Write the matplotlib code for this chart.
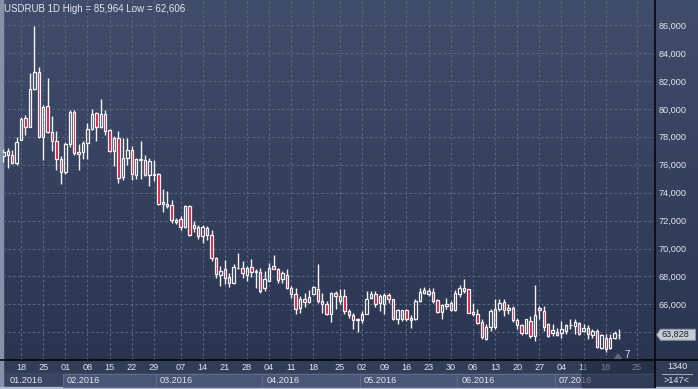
import numpy as np
import matplotlib
matplotlib.use('Agg')
import matplotlib.pyplot as plt
from matplotlib.patches import Rectangle, Polygon
from matplotlib.colors import LinearSegmentedColormap

W, H = 698, 389

# daily USDRUB candles, 12.01.2016 .. 21.07.2016
opens = [76.6, 76.95, 76.7, 76.1, 77.8, 79.33, 78.7, 81.4, 82.6, 77.97,
         80.17, 78.33, 77.67, 76.4, 75.45, 77.5, 79.76, 76.9, 76.9, 77.55,
         78.57, 79.7, 78.7, 79.64, 78.45, 76.95, 77.9, 75.1, 76.47, 77.07,
         75.29, 76.33, 76.36, 75.24, 75.33, 75.33, 73.21, 73.07, 73.12, 72.07,
         72.12, 71.52, 73.07, 71.5, 71.55, 70.9, 71.5, 71.0, 69.3, 68.14,
         68.5, 67.98, 67.5, 68.6, 68.62, 68.07, 68.69, 68.33, 68.33, 67.19,
         67.67, 68.74, 68.55, 67.79, 68.12, 67.19, 66.76, 65.76, 66.4, 66.19,
         66.76, 67.12, 66.24, 66.0, 65.29, 66.83, 66.24, 66.6, 65.52, 65.21,
         64.86, 64.86, 65.33, 66.48, 66.71, 66.12, 66.0, 66.64, 66.36, 64.98,
         64.93, 65.6, 65.05, 64.93, 66.24, 66.83, 66.71, 66.9, 66.29, 65.45,
         65.88, 66.12, 65.6, 66.76, 67.19, 67.07, 65.45, 65.33, 64.74, 63.5,
         64.38, 64.38, 65.64, 66.17, 65.6, 65.76, 64.88, 64.5, 63.98, 64.81,
         63.74, 65.76, 65.52, 64.57, 63.98, 64.02, 63.98, 64.1, 64.5, 64.45,
         64.64, 64.1, 64.33, 63.81, 64.1, 62.9, 63.62, 62.9, 63.62, 63.8]
highs = [77.1, 77.2, 77.07, 78.0, 79.45, 79.57, 82.55, 85.964, 82.98, 80.3,
         82.2, 79.5, 78.38, 76.6, 77.6, 79.9, 79.9, 77.5, 77.67, 78.97,
         79.97, 79.8, 80.7, 79.9, 78.57, 78.07, 78.38, 77.9, 77.9, 77.31,
         76.5, 77.67, 76.71, 76.48, 76.36, 75.4, 74.28, 74.14, 73.5, 72.19,
         72.31, 73.14, 73.14, 72.0, 71.7, 71.7, 71.6, 71.3, 69.4, 68.74,
         69.2, 68.26, 68.86, 69.69, 69.1, 68.74, 69.26, 68.55, 68.6, 68.38,
         68.98, 69.57, 68.62, 68.38, 68.5, 67.31, 67.19, 66.6, 66.83, 67.02,
         67.31, 68.86, 66.83, 66.24, 66.88, 66.95, 67.12, 67.07, 65.64, 65.4,
         65.05, 65.52, 66.95, 66.95, 66.95, 66.76, 66.83, 66.83, 66.4, 65.7,
         65.6, 65.64, 65.21, 66.36, 67.19, 67.26, 67.19, 67.19, 66.4, 66.0,
         66.48, 66.24, 67.02, 67.36, 67.79, 67.12, 66.12, 65.64, 64.93, 64.57,
         65.64, 66.36, 66.36, 66.36, 66.0, 65.88, 65.05, 64.57, 64.98, 65.17,
         67.36, 65.88, 65.88, 64.69, 64.57, 64.33, 64.81, 64.57, 64.93, 64.93,
         64.74, 64.57, 64.5, 64.21, 64.21, 63.86, 63.86, 63.86, 64.1, 64.21]
lows = [76.2, 75.76, 76.07, 76.0, 77.74, 78.14, 78.7, 81.35, 77.9, 76.36,
        78.26, 76.95, 75.64, 74.6, 75.3, 77.3, 76.7, 75.6, 76.4, 76.4,
        78.5, 77.67, 78.6, 78.14, 76.88, 75.93, 74.69, 74.88, 76.0, 74.93,
        75.0, 74.98, 75.17, 74.5, 74.81, 73.14, 72.6, 72.9, 71.83, 71.79,
        71.36, 71.48, 70.88, 71.2, 70.7, 70.4, 70.6, 69.1, 67.9, 67.31,
        67.43, 67.26, 67.43, 68.5, 67.9, 67.67, 67.98, 67.19, 66.83, 66.95,
        67.67, 68.5, 67.55, 67.55, 67.07, 66.48, 65.29, 65.36, 65.83, 66.1,
        66.71, 66.12, 65.4, 65.21, 64.74, 65.64, 66.0, 65.29, 65.05, 64.21,
        64.02, 64.64, 65.29, 66.36, 65.83, 65.52, 65.29, 66.12, 64.88, 64.57,
        64.81, 64.81, 64.33, 64.88, 66.17, 66.71, 66.6, 66.12, 65.4, 64.93,
        65.69, 65.52, 65.52, 66.55, 66.83, 65.36, 65.17, 64.57, 63.55, 63.45,
        64.1, 64.21, 65.52, 65.17, 65.29, 64.74, 64.21, 63.79, 63.86, 63.62,
        63.38, 64.93, 64.1, 63.67, 63.74, 63.74, 63.62, 63.86, 64.26, 63.86,
        63.79, 64.0, 63.55, 63.62, 62.9, 62.79, 62.606, 62.79, 63.5, 63.5]
closes = [76.9, 76.7, 76.1, 77.6, 79.3, 78.7, 81.4, 82.6, 77.97, 80.1,
          78.33, 77.67, 76.4, 75.45, 77.5, 79.76, 76.83, 76.8, 77.55, 78.57,
          79.62, 78.7, 79.64, 78.38, 76.95, 77.9, 75.05, 76.47, 77.07, 75.33,
          76.43, 76.43, 75.24, 76.29, 75.29, 73.21, 73.36, 73.21, 72.07, 71.88,
          71.52, 73.07, 71.0, 71.65, 70.9, 71.55, 71.0, 69.3, 68.2, 68.38,
          67.9, 67.55, 68.69, 68.64, 68.26, 68.62, 68.33, 68.36, 66.95, 67.79,
          68.62, 68.55, 67.74, 68.26, 67.19, 66.76, 65.69, 66.36, 66.19, 66.55,
          67.24, 66.24, 66.0, 65.29, 66.83, 66.6, 66.6, 65.52, 65.21, 64.86,
          64.93, 65.33, 66.4, 66.76, 66.0, 66.6, 66.67, 66.36, 64.98, 65.6,
          65.57, 64.98, 64.86, 66.24, 66.88, 67.0, 66.95, 66.24, 65.45, 65.93,
          66.0, 65.6, 66.83, 67.19, 66.95, 65.4, 65.33, 64.69, 63.67, 64.38,
          65.52, 65.69, 66.12, 65.6, 65.76, 64.88, 64.5, 63.98, 64.93, 63.74,
          65.21, 65.6, 64.4, 63.74, 64.17, 63.83, 64.21, 64.5, 64.52, 64.74,
          63.86, 64.33, 63.86, 64.1, 62.98, 63.79, 62.83, 63.62, 63.93, 63.828]

week_ticks = [4, 9, 14, 19, 24, 29, 34, 40, 45, 50, 55, 60, 65, 70,
              76, 81, 86, 91, 96, 101, 106, 111, 116, 121, 126, 131, 136, 143]
week_labels = ['18', '25', '01', '08', '15', '22', '29', '07', '14', '21', '28',
               '04', '11', '18', '25', '02', '09', '16', '23', '30',
               '06', '13', '20', '27', '04', '11', '18', '25']
month_starts = [14, 35, 59, 81, 103, 125]
month_labels = ['02.2016', '03.2016', '04.2016', '05.2016', '06.2016', '07.2016']
price_ticks = list(range(64, 88, 2))
last_price = 63.828

TXT = '#e2e6ee'
FONT = 'Liberation Sans'
FS = 6.6

fig = plt.figure(figsize=(W / 100, H / 100), dpi=100)

# background panels in pixel coords
bg = fig.add_axes([0, 0, 1, 1], zorder=-1)
bg.set_xlim(0, W)
bg.set_ylim(H, 0)
bg.axis('off')
cmap = LinearSegmentedColormap.from_list('bg', ['#404d6b', '#2b3551'])
grad = np.linspace(0, 1, 256).reshape(-1, 1)
bg.imshow(grad, extent=(0, W, 360, 0), aspect='auto', cmap=cmap)
bg.add_patch(Rectangle((0, 360), W, 27, color='#313c57'))
bg.add_patch(Rectangle((0, 373), 655, 14, color='#3a4561'))
bg.add_patch(Rectangle((0, 0), 2.5, H, color='#8593aa'))
bg.add_patch(Rectangle((0, 386.5), W, 2.5, color='#b4bccb'))

ax = fig.add_axes([3 / W, 1 - 360 / H, 652 / W, 360 / H], zorder=1)
ax.set_facecolor('none')
for s in ax.spines.values():
    s.set_visible(False)
dx = 4.43
ax.set_xlim((3 - 3.3) / dx, (655 - 3.3) / dx)
ax.set_ylim(86 - 335 / 13.97, 86 + 25 / 13.97)

# month boxes in the lower time row
bounds = [m - 0.5 for m in month_starts] + [ax.get_xlim()[1]]
tr = ax.get_xaxis_transform()
for i, lab in enumerate(month_labels):
    ax.add_patch(Rectangle((bounds[i], -0.075), bounds[i + 1] - bounds[i], 0.0375,
                           transform=tr, clip_on=False, fc='#4a5675',
                           ec='#5f6b88', lw=0.8, zorder=0.5))
    ax.text(bounds[i] + 0.9, -0.0565, lab, transform=tr, ha='left', va='center',
            fontsize=FS, color=TXT, family=FONT)
ax.text(1.5, -0.0565, '01.2016', transform=tr, ha='left', va='center',
        fontsize=FS, color=TXT, family=FONT)

ax.set_xticks(week_ticks)
ax.set_xticklabels(week_labels)
ax.set_yticks(price_ticks)
# the 64,000 label sits under the last-price tag
ax.set_yticklabels(['' if p == 64 else f'{p},000' for p in price_ticks])
ax.yaxis.tick_right()
ax.tick_params(length=0, labelsize=FS, labelcolor=TXT)
ax.tick_params(axis='x', pad=2.2)
ax.tick_params(axis='y', pad=2.5)
for t in ax.get_xticklabels() + ax.get_yticklabels():
    t.set_family(FONT)
ax.grid(True, color='#5a6782', ls=(0, (2.2, 2.2)), lw=0.8)
ax.set_axisbelow(True)

# candles
o = np.array(opens)
c = np.array(closes)
hi = np.array(highs)
lo = np.array(lows)
x = np.arange(len(o))
top = np.maximum(o, c)
bot = np.minimum(o, c)
ax.vlines(x, top, hi, color='#f4f4f4', lw=1, zorder=3)
ax.vlines(x, lo, bot, color='#f4f4f4', lw=1, zorder=3)
face = ['none' if cc >= oo else '#e3103c' for oo, cc in zip(o, c)]
ax.bar(x, np.maximum(top - bot, 0.04), bottom=bot, width=0.55, color=face,
       edgecolor='#f4f4f4', lw=0.9, zorder=3)

# last-price tag on the price axis
ytr = ax.get_yaxis_transform()
hh = 5.5 / 13.97
ax.add_patch(Polygon([(1.0025, last_price), (1.0085, last_price + hh),
                      (1.062, last_price + hh), (1.062, last_price - hh),
                      (1.0085, last_price - hh)], closed=True, transform=ytr,
                     clip_on=False, fc='#c8ccd5', ec='#8c95a8', lw=0.7, zorder=6))
ax.text(1.0105, last_price, f'{last_price:.3f}'.replace('.', ','), transform=ytr,
        ha='left', va='center', fontsize=FS, color='#1c2335', family=FONT, zorder=7)

# overlay pieces in pixel coords
ov = fig.add_axes([0, 0, 1, 1], zorder=5)
ov.set_xlim(0, W)
ov.set_ylim(H, 0)
ov.axis('off')
ov.add_patch(Rectangle((582, 360.5), 73, 26, color='#1f2840', alpha=0.55))
ov.plot([655, 655], [0, 387], color='#05070c', lw=1.2)
ov.plot([0, W], [360, 360], color='#05070c', lw=1.2)
ov.add_patch(Polygon([(614.5, 359), (621.5, 359), (618, 354)], color='#5b6781'))
ov.text(627, 355, '7', fontsize=7, color=TXT, ha='center', va='center', family=FONT)
ov.text(677, 366.5, '1340', fontsize=FS, color=TXT, ha='center', va='center', family=FONT)
ov.plot([662, 692], [373.5, 373.5], color='#9aa3b5', lw=0.8)
ov.text(677, 380.5, '>147<', fontsize=FS, color=TXT, ha='center', va='center', family=FONT)
ov.text(4, 8.5, 'USDRUB 1D High = 85,964 Low = 62,606', fontsize=7, color=TXT,
        ha='left', va='center', family=FONT)

fig.savefig('out.png', dpi=100)
